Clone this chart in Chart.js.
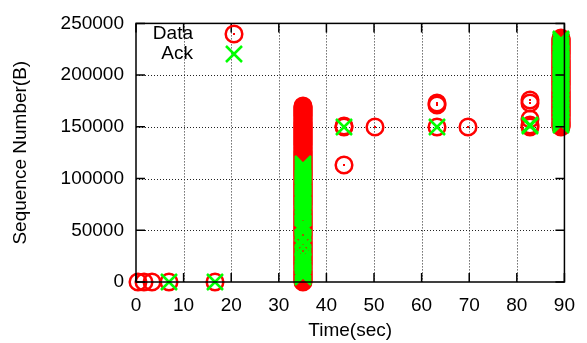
<!DOCTYPE html>
<html>
<head>
<meta charset="utf-8">
<script src="https://cdn.jsdelivr.net/npm/chart.js@4.4.1/dist/chart.umd.min.js"></script>
<style>
  html, body { margin: 0; padding: 0; background: #fff; }
</style>
</head>
<body>
<canvas id="seqChart" width="587" height="343"></canvas>
<script>
// single packets (time in sec, sequence number in bytes)
const dataTime = [0.4, 1.7, 3.3, 7.0, 16.6, 43.7, 43.7, 43.7, 50.2, 63.2, 63.2, 63.2, 69.8, 82.8, 82.8, 82.8, 82.8, 82.8];
const dataSeq  = [0, 0, 0, 0, 0, 149500, 150500, 112800, 149500, 171000, 173000, 149500, 150000, 173500, 175500, 158000, 152000, 150000];
const ackTime  = [7.0, 16.6, 43.7, 63.2, 82.8, 82.8];
const ackSeq   = [0, 0, 149500, 149500, 151500, 150500];

// the two bursts, each drawn at one time value
const burstTimes = [35.1, 89.3];
const burst1DataSeq = [
  0, 1100, 2000, 3100, 4000, 5100, 6000, 7100, 8000, 9100,
  10000, 11100, 12000, 13100, 14000, 15100, 16000, 17100, 18000, 19100,
  20000, 21100, 22000, 23100, 24000, 25100, 26000, 27100, 28000, 29100,
  30000, 31100, 32000, 33100, 34000, 35100, 36000, 37100, 38000, 39100,
  40000, 41100, 42000, 43100, 44000, 45100, 46000, 47100, 48000, 49100,
  50000, 51100, 52000, 53100, 54000, 55100, 56000, 57100, 58000, 59100,
  60000, 61100, 62000, 63100, 64000, 65100, 66000, 67100, 68000, 69100,
  70000, 71100, 72000, 73100, 74000, 75100, 76000, 77100, 78000, 79100,
  80000, 81100, 82000, 83100, 84000, 85100, 86000, 87100, 88000, 89100,
  90000, 91100, 92000, 93100, 94000, 95100, 96000, 97100, 98000, 99100,
  100000, 101100, 102000, 103100, 104000, 105100, 106000, 107100, 108000, 109100,
  110000, 111100, 112000, 113100, 114000, 115100, 116000, 117100, 118000, 119100,
  120000, 121100, 122000, 123100, 124000, 125100, 126000, 127100, 128000, 129100,
  130000, 131100, 132000, 133100, 134000, 135100, 136000, 137100, 138000, 139100,
  140000, 141100, 142000, 143100, 144000, 145100, 146000, 147100, 148000, 149100,
  150000, 151100, 152000, 153100, 154000, 155100, 156000, 157100, 158000, 159100,
  160000, 161100, 162000, 163100, 164000, 165100, 166000, 167100, 168000, 169100,
  170000];
const burst1AckSeq = [5000, 7000, 9000, 11000, 13000, 15000, 17000, 19000, 21000, 23000, 27500, 32500, 34300, 38500,
  40500, 43000, 48000, 50000, 52000, 54000, 56000, 57500, 61700, 63500, 65500, 67500, 69500, 71500, 73500, 74500,
  78700, 80500, 82500, 84500, 86500, 88500, 90500, 92500, 94500, 96500, 98500, 100500, 102500, 104500, 106500,
  108500, 110500, 112500, 113700];
const burst2DataSeq = [
  150000, 151100, 152000, 153100, 154000, 155100, 156000, 157100, 158000, 159100,
  160000, 161100, 162000, 163100, 164000, 165100, 166000, 167100, 168000, 169100,
  170000, 171100, 172000, 173100, 174000, 175100, 176000, 177100, 178000, 179100,
  180000, 181100, 182000, 183100, 184000, 185100, 186000, 187100, 188000, 189100,
  190000, 191100, 192000, 193100, 194000, 195100, 196000, 197100, 198000, 199100,
  200000, 201100, 202000, 203100, 204000, 205100, 206000, 207100, 208000, 209100,
  210000, 211100, 212000, 213100, 214000, 215100, 216000, 217100, 218000, 219100,
  220000, 221100, 222000, 223100, 224000, 225100, 226000, 227100, 228000, 229100,
  230000, 231100, 232000, 233100, 234000, 235100, 236000];
const burst2AckSeq = [151700, 153700, 155700, 157700, 159700, 161700, 163700, 165900, 170300, 174000, 177600,
  179600, 181600, 183600, 185600, 187600, 189600, 191600, 193600, 195600, 197600, 199600, 201600, 203600, 205600,
  207600, 209600, 211600, 213600, 215600, 217600, 219600, 221600, 223600, 225600, 227600, 229600, 231600, 233600,
  235000];

const xTicks = [0, 10, 20, 30, 40, 50, 60, 70, 80, 90];
const yTicks = [0, 50000, 100000, 150000, 200000, 250000];

const FONT = { family: "'Liberation Sans', Arial, sans-serif", size: 19 };

function pts(xs, ys) { return xs.map((t, i) => ({ x: t, y: ys[i] })); }
function burst(t, ys) { return ys.map(s => ({ x: t, y: s })); }

const dataPoints = pts(dataTime, dataSeq)
  .concat(burst(burstTimes[0], burst1DataSeq), burst(burstTimes[1], burst2DataSeq));
const ackPoints = pts(ackTime, ackSeq)
  .concat(burst(burstTimes[0], burst1AckSeq), burst(burstTimes[1], burst2AckSeq));

// gnuplot-like markers
function makeCircle() {
  const c = document.createElement('canvas');
  c.width = 24; c.height = 24;
  const g = c.getContext('2d');
  g.strokeStyle = '#ff0000';
  g.lineWidth = 2.5;
  g.beginPath();
  g.arc(12, 12, 8.3, 0, Math.PI * 2);
  g.stroke();
  g.fillStyle = '#ff0000';
  g.fillRect(11, 11, 2, 2);
  return c;
}
function makeCross() {
  const c = document.createElement('canvas');
  c.width = 24; c.height = 24;
  const g = c.getContext('2d');
  g.strokeStyle = '#00ff00';
  g.lineWidth = 2.5;
  g.beginPath();
  g.moveTo(4, 4); g.lineTo(20, 20);
  g.moveTo(20, 4); g.lineTo(4, 20);
  g.stroke();
  return c;
}
const circleMark = makeCircle();
const crossMark = makeCross();

const frame = {
  id: 'frame',
  beforeDatasetsDraw(chart) {
    const { ctx, chartArea: a, scales: { x, y } } = chart;
    ctx.save();
    ctx.strokeStyle = '#222';
    ctx.lineWidth = 1;
    ctx.setLineDash([1, 2]);
    ctx.beginPath();
    xTicks.slice(1, -1).forEach(v => {
      const px = Math.round(x.getPixelForValue(v)) + 0.5;
      ctx.moveTo(px, a.top); ctx.lineTo(px, a.bottom);
    });
    yTicks.slice(1, -1).forEach(v => {
      const py = Math.round(y.getPixelForValue(v)) + 0.5;
      ctx.moveTo(a.left, py); ctx.lineTo(a.right, py);
    });
    ctx.stroke();
    ctx.restore();
    // keep the marker images crisp so the bursts fill solid
    ctx.imageSmoothingEnabled = false;
  },
  afterDatasetsDraw(chart) {
    const { ctx, chartArea: a, scales: { x, y } } = chart;
    ctx.imageSmoothingEnabled = true;
    ctx.save();
    ctx.strokeStyle = '#000';
    ctx.lineWidth = 1.5;
    ctx.beginPath();
    const tl = 9;
    xTicks.forEach(v => {
      const px = x.getPixelForValue(v);
      ctx.moveTo(px, a.bottom); ctx.lineTo(px, a.bottom - tl);
      ctx.moveTo(px, a.top); ctx.lineTo(px, a.top + tl);
    });
    yTicks.forEach(v => {
      const py = y.getPixelForValue(v);
      ctx.moveTo(a.left, py); ctx.lineTo(a.left + tl, py);
      ctx.moveTo(a.right, py); ctx.lineTo(a.right - tl, py);
    });
    ctx.stroke();
    ctx.strokeRect(a.left, a.top, a.right - a.left, a.bottom - a.top);

    // key, top left inside the plot
    ctx.fillStyle = '#000';
    ctx.font = FONT.size + 'px ' + FONT.family;
    ctx.textAlign = 'right';
    ctx.textBaseline = 'middle';
    const marks = [circleMark, crossMark];
    chart.data.datasets.forEach((ds, i) => {
      const ky = 34 + i * 20;
      ctx.fillText(ds.label, 193, ky);
      ctx.drawImage(marks[i], 234 - 12, ky - 12);
    });
    ctx.restore();
  }
};

new Chart(document.getElementById('seqChart'), {
  type: 'scatter',
  data: {
    datasets: [
      { label: 'Data', data: dataPoints, pointStyle: circleMark, pointRadius: 9, order: 2, clip: false },
      { label: 'Ack', data: ackPoints, pointStyle: crossMark, pointRadius: 9, order: 1, clip: false }
    ]
  },
  options: {
    responsive: false,
    animation: false,
    events: [],
    layout: { padding: { top: 16, right: 13, left: 0, bottom: 0 } },
    plugins: { legend: { display: false }, tooltip: { enabled: false } },
    scales: {
      x: {
        type: 'linear', min: 0, max: 90,
        afterBuildTicks: s => { s.ticks = xTicks.map(v => ({ value: v })); },
        afterFit: s => { s.height = 61; },
        ticks: { padding: 12, color: '#000', font: FONT, callback: v => String(v), maxRotation: 0 },
        grid: { display: false, drawTicks: false },
        border: { display: false },
        title: { display: true, text: 'Time(sec)', color: '#000', font: FONT, padding: { top: 0, bottom: 1 } }
      },
      y: {
        type: 'linear', min: 0, max: 250000,
        afterBuildTicks: s => { s.ticks = yTicks.map(v => ({ value: v })); },
        afterFit: s => { s.width = 136; },
        ticks: { padding: 12, color: '#000', font: FONT, callback: v => String(v) },
        grid: { display: false, drawTicks: false },
        border: { display: false },
        title: { display: true, text: 'Sequence Number(B)', color: '#000', font: FONT, padding: { top: 9, bottom: 0 } }
      }
    }
  },
  plugins: [frame]
});
</script>
</body>
</html>
